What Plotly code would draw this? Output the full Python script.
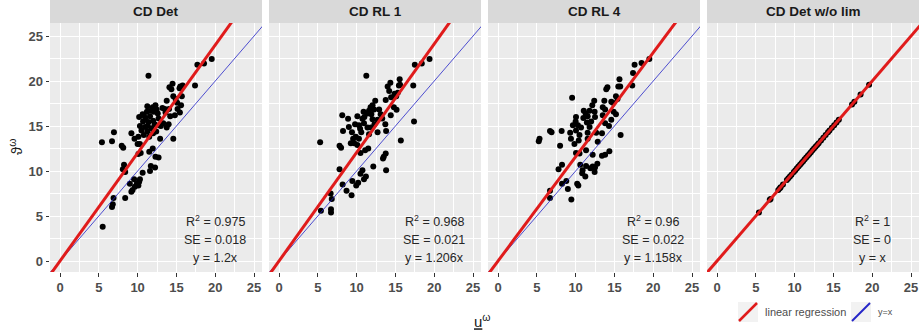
import plotly.graph_objects as go

# ---------------- data ----------------
panel_titles = ["CD Det", "CD RL 1", "CD RL 4", "CD Det w/o lim"]
slopes = [1.2, 1.206, 1.158, 1.0]
r2_labels = ["0.975", "0.968", "0.96", "1"]
se_labels = ["0.018", "0.021", "0.022", "0"]
eq_labels = ["y = 1.2x", "y = 1.206x", "y = 1.158x", "y = x"]
tick_vals = [0, 5, 10, 15, 20, 25]

x1 = [19.55, 18.56, 17.7, 17.4, 11.4, 14.5, 14.1, 15.5, 15.4, 14.35,
      14.6, 15.7, 13.75, 15.1, 13.2, 12.3, 11.95, 11.25, 11.7, 11.2,
      12.1, 12.45, 10.65, 11.6, 10.2, 14.05, 14.2, 15.15, 15.45, 13.6,
      12.7, 10.7, 10.3, 10.95, 11.4, 12.0, 12.8, 13.3, 13.75, 14.0,
      11.8, 12.4, 11.25, 10.5, 10.8, 10.1, 9.6, 9.2, 12.9, 14.6,
      6.95, 5.4, 6.7, 7.95, 8.15, 10.0, 10.3, 11.95, 10.4, 10.1,
      11.5, 12.3, 12.7, 8.25, 8.1, 8.4, 11.7, 11.6, 12.25, 10.65,
      10.3, 10.2, 9.9, 9.55, 9.0, 10.1, 9.35, 9.2, 9.65, 8.4,
      6.9, 6.8, 6.7, 5.5, 11.0, 12.6, 13.0, 11.5, 12.0, 13.5,
      14.9, 15.8, 15.6, 14.8, 11.3, 12.2, 10.8]
y1 = [22.44, 21.96, 21.8, 19.5, 20.6, 19.7, 19.3, 19.4, 19.2, 19.1,
      18.3, 18.3, 17.8, 17.6, 17.0, 17.3, 17.1, 17.2, 16.7, 16.6,
      16.6, 16.85, 16.3, 16.1, 16.0, 16.9, 16.1, 16.9, 16.5, 16.5,
      15.85, 15.5, 15.0, 14.9, 15.45, 15.6, 15.1, 15.3, 14.85, 15.2,
      14.75, 14.4, 14.4, 14.5, 14.0, 13.8, 13.6, 14.2, 13.6, 13.6,
      14.3, 13.2, 13.3, 12.8, 12.6, 13.0, 13.0, 12.5, 12.0, 11.9,
      12.15, 11.6, 11.5, 10.7, 10.2, 9.9, 10.55, 10.0, 10.4, 9.8,
      9.1, 8.8, 8.6, 9.1, 8.6, 8.4, 7.9, 7.7, 8.25, 7.0,
      7.0, 6.3, 6.0, 3.8, 15.9, 16.4, 15.0, 13.8, 14.2, 16.9,
      18.0, 19.5, 17.3, 16.2, 15.0, 15.2, 16.2]

x2 = [19.4, 18.4, 17.5, 17.3, 11.25, 14.35, 15.55, 15.45, 14.0, 14.2,
      14.45, 15.3, 15.1, 13.75, 14.8, 15.15, 14.4, 12.4, 12.05, 11.8,
      12.25, 11.6, 10.9, 11.4, 8.15, 10.1, 10.75, 8.9, 12.05, 12.7,
      13.3, 13.7, 9.8, 10.3, 10.95, 11.4, 9.0, 8.25, 9.4, 10.45,
      11.85, 12.7, 13.8, 9.9, 10.3, 9.55, 11.6, 9.25, 10.1, 5.3,
      7.8, 8.0, 15.7, 17.4, 10.5, 11.1, 11.5, 13.75, 13.5, 13.4,
      13.8, 12.15, 7.8, 10.75, 10.5, 10.95, 10.2, 9.95, 9.45, 8.7,
      9.35, 8.2, 6.65, 6.8, 5.4, 6.7, 6.7, 11.2, 9.7, 12.9,
      13.1, 11.0, 12.3, 10.6, 11.9, 15.6, 14.9]
y2 = [22.44, 21.96, 21.8, 19.5, 20.6, 19.8, 20.2, 19.5, 19.4, 18.9,
      18.2, 18.7, 18.3, 17.9, 17.1, 16.8, 16.2, 17.8, 17.3, 17.1,
      16.85, 16.7, 16.6, 16.4, 16.2, 16.1, 15.8, 15.8, 15.75, 15.7,
      15.85, 15.2, 15.2, 15.1, 15.3, 14.85, 14.9, 14.45, 14.3, 14.7,
      14.85, 14.3, 14.45, 13.8, 13.6, 13.6, 14.1, 13.1, 12.9, 13.2,
      12.8, 12.6, 13.4, 15.5, 12.0, 12.3, 12.5, 11.95, 11.6, 11.4,
      10.1, 10.5, 10.2, 10.1, 9.7, 9.1, 8.7, 8.4, 8.9, 7.8,
      7.3, 8.5, 7.5, 6.9, 5.6, 5.75, 5.4, 9.4, 13.1, 16.85,
      16.3, 16.0, 15.2, 14.3, 16.3, 19.6, 18.6]

x3 = [19.5, 18.5, 17.6, 17.4, 17.3, 15.65, 15.5, 15.75, 14.1, 13.95,
      9.55, 15.2, 14.6, 14.8, 13.7, 12.4, 12.15, 11.05, 11.8, 12.45,
      13.5, 13.8, 10.05, 11.0, 11.55, 12.5, 13.5, 14.9, 15.2, 14.6,
      13.8, 14.3, 9.65, 10.3, 10.7, 11.45, 11.8, 6.7, 6.9, 8.2,
      9.3, 10.05, 10.5, 11.55, 12.65, 13.4, 15.8, 5.35, 5.25, 9.4,
      10.4, 11.55, 12.85, 8.0, 9.85, 10.05, 10.5, 11.35, 12.2, 13.4,
      13.8, 14.35, 12.8, 12.2, 11.35, 11.9, 12.45, 10.9, 10.85, 11.25,
      8.25, 7.8, 10.6, 8.8, 8.25, 10.2, 10.35, 9.0, 6.7, 6.7,
      9.45, 12.5, 11.3, 12.0, 10.0, 15.4]
y3 = [22.44, 22.0, 21.8, 20.9, 19.5, 20.2, 19.4, 19.4, 19.3, 19.1,
      18.15, 18.3, 17.7, 17.6, 17.8, 17.8, 17.3, 16.7, 16.7, 16.6,
      17.1, 16.85, 16.0, 15.9, 16.1, 16.0, 16.2, 16.6, 16.3, 15.7,
      15.3, 15.0, 15.1, 15.1, 14.85, 15.4, 14.9, 14.45, 14.3, 14.45,
      14.25, 14.5, 14.0, 14.25, 14.25, 14.2, 14.0, 13.6, 13.3, 13.6,
      13.4, 13.6, 13.25, 12.8, 13.0, 12.0, 11.95, 12.3, 11.8, 11.7,
      11.8, 12.2, 10.8, 10.5, 10.55, 10.3, 9.9, 10.1, 9.75, 9.4,
      10.7, 10.2, 10.7, 8.9, 8.6, 8.6, 8.4, 8.0, 7.8, 7.0,
      6.85, 10.4, 16.4, 15.5, 15.5, 18.0]

x4 = [5.4, 6.8, 6.9, 7.9, 8.1, 8.2, 8.5, 9.0, 9.2, 9.4,
      9.6, 9.9, 10.1, 10.3, 10.5, 10.7, 10.9, 11.1, 11.3, 11.5,
      11.7, 11.9, 12.1, 12.3, 12.5, 12.7, 12.9, 13.1, 13.4, 13.7,
      14.0, 14.3, 14.5, 14.8, 15.1, 15.4, 15.7, 17.4, 17.7, 18.5,
      19.6]
y4 = [5.4, 6.8, 6.9, 7.9, 8.1, 8.2, 8.5, 9.0, 9.2, 9.4,
      9.6, 9.9, 10.1, 10.3, 10.5, 10.7, 10.9, 11.1, 11.3, 11.5,
      11.7, 11.9, 12.1, 12.3, 12.5, 12.7, 12.9, 13.1, 13.4, 13.7,
      14.0, 14.3, 14.5, 14.8, 15.1, 15.4, 15.7, 17.4, 17.7, 18.5,
      19.6]

legend_labels = ["linear regression", "y=x"]

# ---------------- layout constants ----------------
W, H = 919, 332
ML, MR, MT, MB = 50, 0, 23, 60
PW = W - ML - MR
PH = H - MT - MB
panel_w = 212
pitch = 219
FONT = "Liberation Sans, Arial, sans-serif"
RED = "#E01B1B"
BLUE = "#2525C8"

xs = [x1, x2, x3, x4]
ys = [y1, y2, y3, y4]
line_x = [-5, 30]

fig = go.Figure()
for i in range(4):
    xa = "x" if i == 0 else f"x{i+1}"
    ya = "y" if i == 0 else f"y{i+1}"
    fig.add_trace(go.Scatter(x=xs[i], y=ys[i], mode="markers",
                             marker=dict(color="black", size=6),
                             xaxis=xa, yaxis=ya, showlegend=False, hoverinfo="skip"))
    fig.add_trace(go.Scatter(x=line_x, y=[v for v in line_x], mode="lines",
                             line=dict(color=BLUE, width=0.8),
                             xaxis=xa, yaxis=ya, showlegend=False, hoverinfo="skip"))
    fig.add_trace(go.Scatter(x=line_x, y=[slopes[i] * v for v in line_x], mode="lines",
                             line=dict(color=RED, width=3),
                             xaxis=xa, yaxis=ya, showlegend=False, hoverinfo="skip"))

layout = dict(
    width=W, height=H,
    margin=dict(l=ML, r=MR, t=MT, b=MB, pad=0),
    paper_bgcolor="white", plot_bgcolor="#EBEBEB",
    font=dict(family=FONT),
    showlegend=False,
)
axis_common = dict(
    showgrid=True, gridcolor="white", gridwidth=1.1,
    zeroline=False, showline=False,
    tickvals=tick_vals,
    minor=dict(dtick=2.5, tick0=0, showgrid=True, gridcolor="white", gridwidth=0.5),
    ticks="outside", ticklen=3.5, tickwidth=1, tickcolor="#333333",
    tickfont=dict(family=FONT, size=13, color="#4D4D4D", weight="bold"),
)
annotations = []
shapes = []
strip_h = MT / PH
for i in range(4):
    n = "" if i == 0 else str(i + 1)
    xa = "x" + n
    ya = "y" + n
    d0 = pitch * i / PW
    d1 = (pitch * i + panel_w) / PW
    layout["xaxis" + n] = dict(axis_common, domain=[d0, d1], range=[-1.29, 26.03], anchor=ya)
    yax = dict(axis_common, domain=[0, 1], range=[-1.22, 26.45], anchor=xa)
    if i > 0:
        yax.update(showticklabels=False, ticks="")
    layout["yaxis" + n] = yax
    # strip
    shapes.append(dict(type="rect", xref="paper", yref="paper", x0=d0, x1=d1,
                       y0=1, y1=1 + strip_h, fillcolor="#D9D9D9", line=dict(width=0),
                       layer="below"))
    annotations.append(dict(text=panel_titles[i], xref="paper", yref="paper",
                            x=(d0 + d1) / 2, y=1 + strip_h / 2, showarrow=False,
                            xanchor="center", yanchor="middle",
                            font=dict(family=FONT, size=13.5, color="#1A1A1A", weight="bold")))
    # stats text
    stats = ["R<sup>2</sup> = " + r2_labels[i], "SE = " + se_labels[i], eq_labels[i]]
    for txt, yy in zip(stats, [4.5, 2.3, 0.3]):
        annotations.append(dict(text=txt, xref=xa, yref=ya, x=20, y=yy, showarrow=False,
                                xanchor="center", yanchor="middle",
                                font=dict(family=FONT, size=12.5, color="#262626")))

def px_x(p):
    return (p - ML) / PW

def px_y(p):
    return (H - MB - p) / PH

# axis titles
annotations.append(dict(text="<u>u</u><sup>ω</sup>", xref="paper", yref="paper",
                        x=px_x(482), y=px_y(320), showarrow=False,
                        xanchor="center", yanchor="middle",
                        font=dict(family=FONT, size=15, color="#1A1A1A")))
annotations.append(dict(text="ϑ<sup>ω</sup>", xref="paper", yref="paper",
                        x=px_x(15), y=px_y(147), showarrow=False, textangle=-90,
                        xanchor="center", yanchor="middle",
                        font=dict(family=FONT, size=15, color="#1A1A1A")))

# custom legend (diagonal keys like ggplot abline)
keys = [(738, RED, 2.5, legend_labels[0], 11), (851, BLUE, 2.0, legend_labels[1], 9)]
for kx, col, lw, lab, fs in keys:
    shapes.append(dict(type="rect", xref="paper", yref="paper",
                       x0=px_x(kx), x1=px_x(kx + 20), y0=px_y(322), y1=px_y(302),
                       fillcolor="#F2F2F2", line=dict(width=0)))
    shapes.append(dict(type="line", xref="paper", yref="paper",
                       x0=px_x(kx + 1), x1=px_x(kx + 19), y0=px_y(321), y1=px_y(303),
                       line=dict(color=col, width=lw)))
    annotations.append(dict(text=lab, xref="paper", yref="paper",
                            x=px_x(kx + 25), y=px_y(312), showarrow=False,
                            xanchor="left", yanchor="middle",
                            font=dict(family=FONT, size=fs, color="#4D4D4D")))

layout["annotations"] = annotations
layout["shapes"] = shapes
fig.update_layout(**layout)
fig.write_html("out.html")
